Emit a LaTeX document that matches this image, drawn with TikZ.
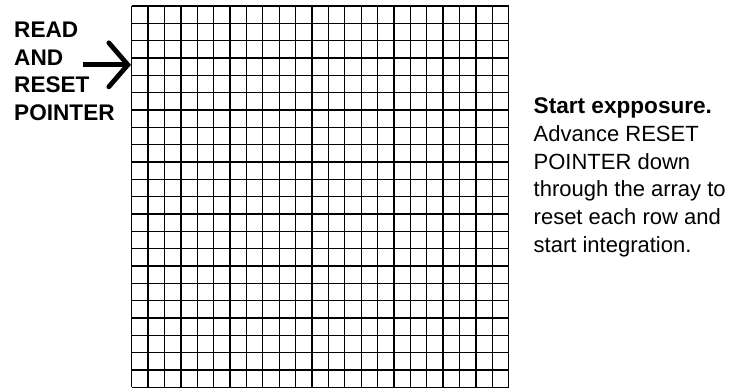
\documentclass[tikz,border=0pt]{standalone}
\usepackage{fontspec}
\setmainfont{Liberation Sans}
\usetikzlibrary{arrows.meta,positioning}

\begin{document}
\begin{tikzpicture}[
    x=1pt, y=-1pt,
    gridline/.style={line width=1.3pt, black},
    label/.style={inner sep=0pt, align=left, anchor=base west, font=\fontsize{22}{27.8}\selectfont},
    boldlabel/.style={label, font=\fontsize{22.6}{27.8}\selectfont\bfseries},
    pointer/.style={line width=4.8pt, -{Straight Barb[length=19pt, width=44pt, line cap=round]}},
  ]
    \useasboundingbox (0,0) rectangle (733,388);

    % pixel array, 23 columns by 22 rows
    \foreach \i in {0,...,23}
      \draw[gridline] (131.7+\i*16.39,6) -- (131.7+\i*16.39,387.3);
    \foreach \j in {0,...,22}
      \draw[gridline] (131.7,6+\j*17.33) -- (508.7,6+\j*17.33);

    % base anchor sits on the last line
    \node[boldlabel] (readreset) at (14,120.7) {READ\\AND\\RESET\\POINTER};
    \node[label] (exposure) at (533.5,252.5) {{\fontsize{22.6}{27.8}\selectfont\bfseries Start expposure.}\\Advance RESET\\POINTER down\\through the array to\\reset each row and\\start integration.};

    \coordinate (tail) at (82.5,64.8);
    \coordinate (tip) at (131,64.8);
    \draw[pointer] (tail) -- (tip);
  \end{tikzpicture}
\end{document}
